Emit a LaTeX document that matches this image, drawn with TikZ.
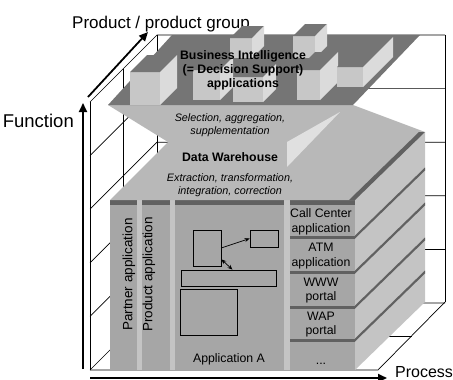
\documentclass[tikz,border=0pt]{standalone}
\usepackage{fontspec}
\setmainfont{Liberation Sans}
\usetikzlibrary{arrows.meta,positioning}
\definecolor{colface}{gray}{0.65}
\definecolor{gapface}{gray}{0.77}
\definecolor{stripdark}{gray}{0.38}
\definecolor{sideface}{gray}{0.77}
\definecolor{dwface}{gray}{0.72}
\definecolor{bitop}{gray}{0.46}
\definecolor{boxfront}{gray}{0.78}
\definecolor{boxside}{gray}{0.86}
\definecolor{shine}{gray}{0.88}
\tikzset{
  wallline/.style={draw=black, line width=0.7pt},
  axisarrow/.style={line width=1.8pt, -{Triangle[length=9pt,width=8pt]}},
  appbox/.style={rectangle, draw=black, line width=0.7pt, inner sep=0pt},
  linkarrow/.style={line width=0.7pt, -{Stealth[length=5pt,width=4pt]}},
  collabel/.style={font=\fontsize{12.3}{14.5}\selectfont, align=center, inner sep=0pt},
  vertlabel/.style={font=\fontsize{13.5}{15}\selectfont, rotate=90, inner sep=0pt},
  dwlabel/.style={font=\fontsize{10.8}{13.5}\selectfont\itshape, align=center, inner sep=0pt},
  boldlabel/.style={font=\fontsize{12.3}{14}\selectfont\bfseries, align=center, inner sep=0pt},
  axislabel/.style={font=\fontsize{17}{20}\selectfont, inner sep=0pt},
}
% front-bottom-left x, y, width, height, depth
\newcommand{\bibox}[5]{%
  \fill[boxfront] (#1,#2) rectangle ++(#3,-#4);
  \fill[bitop] (#1,{#2-#4}) -- ++(#3,0) -- ++(#5,-#5) -- ++(-#3,0) -- cycle;
  \fill[boxside] ({#1+#3},#2) -- ++(0,-#4) -- ++(#5,-#5) -- ++(0,#4) -- cycle;
}

\begin{document}
\begin{tikzpicture}[x=1pt,y=-1pt]
  \useasboundingbox (0,0) rectangle (453,380);

  % room: left wall, back wall, floor
  \foreach \k in {0,...,5} {
    \draw[wallline] (90,{102+53.6*\k}) -- (157,{35+53.6*\k}) -- (445,{35+53.6*\k});
  }
  \draw[wallline] (90,102) -- (90,370);
  \draw[wallline] (123.5,68.5) -- (123.5,336);
  \draw[wallline] (157,35) -- (157,302);
  \draw[wallline] (445,35) -- (445,302);
  \draw[wallline] (90,370) -- (378,370) -- (445,302);
  \draw[wallline] (123.5,336) -- (411.5,336);

  % axes
  \coordinate (funcfoot) at (83,369);
  \coordinate (functip)  at (83,103);
  \coordinate (procfoot) at (90,378);
  \coordinate (proctip)  at (387,378);
  \coordinate (prodfoot) at (88,97);
  \coordinate (prodtip)  at (148,32);
  \draw[axisarrow] (funcfoot) -- (functip);
  \draw[axisarrow] (procfoot) -- (proctip);
  \draw[axisarrow] (prodfoot) -- (prodtip);
  \node[axislabel, font=\fontsize{18.5}{20}\selectfont, anchor=base east] (funclbl) at (74,127) {Function};
  \node[axislabel, anchor=base west] (prodlbl) at (72,28) {Product / product group};
  \node[axislabel, font=\fontsize{16}{20}\selectfont, anchor=base west] (proclbl) at (395,377) {Process};

  % operational applications: right side of the block
  \fill[sideface] (355,200) -- (425,132) -- (425,302) -- (355,370) -- cycle;
  \foreach \yy in {237,272,307,340} {
    \fill[stripdark] (355,{\yy-1.5}) -- (425,{\yy-69.5}) -- (425,{\yy-66.5}) -- (355,{\yy+1.5}) -- cycle;
  }

  % front of the block: columns
  \fill[gapface] (110,200) rectangle (355,370);
  \foreach \xa/\xb in {110/137,142/170,175/284,290/355} {
    \fill[colface] (\xa,204) rectangle (\xb,370);
    \fill[stripdark] (\xa,200) rectangle (\xb,204.5);
  }
  \foreach \yy in {237,272,307,340} {
    \fill[stripdark] (290,{\yy-1.5}) rectangle (355,{\yy+1.5});
  }

  % data warehouse and selection layer
  \fill[dwface] (110,200) -- (168,142) -- (108,105) -- (353,105) -- (425,132) -- (355,200) -- cycle;
  \fill[stripdark] (349,200) -- (419,132) -- (425,132) -- (355,200) -- cycle;
  \fill[shine] (287,142) -- (340,112) -- (287,167) -- cycle;

  % business intelligence platform
  \fill[bitop] (108,105) -- (353,105) -- (420,35) -- (172,35) -- cycle;
  \foreach \bx/\by/\bw/\bh/\bd in {230/58/22/20/12, 293/58/22/22/12,
      130/105/30/33/17, 193/100/27/30/13, 233/102/30/25/13, 297/100/23/30/18, 337/87/26/20/30} {
    \bibox{\bx}{\by}{\bw}{\bh}{\bd}
  }

  % texts of the layers
  \node[boldlabel] (bilbl) at (243,70) {Business Intelligence\\(= Decision Support)\\applications};
  \node[dwlabel] (sellbl) at (230,125) {Selection, aggregation,\\supplementation};
  \node[boldlabel] (dwlbl) at (230,157) {Data Warehouse};
  \node[dwlabel] (extlbl) at (230,185) {Extraction, transformation,\\integration, correction};

  % application columns
  \node[vertlabel] (partnerlbl) at (129,274.5) {Partner application};
  \node[vertlabel] (productlbl) at (149,274.5) {Product application};
  \node[collabel] (calllbl) at (321,222) {Call Center\\application};
  \node[collabel] (atmlbl)  at (321,256) {ATM\\application};
  \node[collabel] (wwwlbl)  at (321,290.5) {WWW\\portal};
  \node[collabel] (waplbl)  at (321,324.5) {WAP\\portal};
  \node[collabel, anchor=base] (morelbl) at (321,364) {...};
  \node[collabel, anchor=base] (applbl) at (229,362) {Application A};

  % inside application A
  \node[appbox, minimum width=28pt, minimum height=36pt] (boxa) at (207,248) {};
  \node[appbox, minimum width=28pt, minimum height=17pt] (boxb) at (264,238.5) {};
  \node[appbox, minimum width=95pt, minimum height=16pt] (bar) at (228.5,278) {};
  \node[appbox, minimum width=57pt, minimum height=46pt] (boxc) at (208.5,312) {};
  \draw[linkarrow] (boxa.east) -- (boxb.west);
  \draw[linkarrow, {Stealth[length=5pt,width=4pt]}-{Stealth[length=5pt,width=4pt]}]
    ([yshift=7pt]boxa.south east) -- ([xshift=4pt]bar.north);
\end{tikzpicture}
\end{document}
